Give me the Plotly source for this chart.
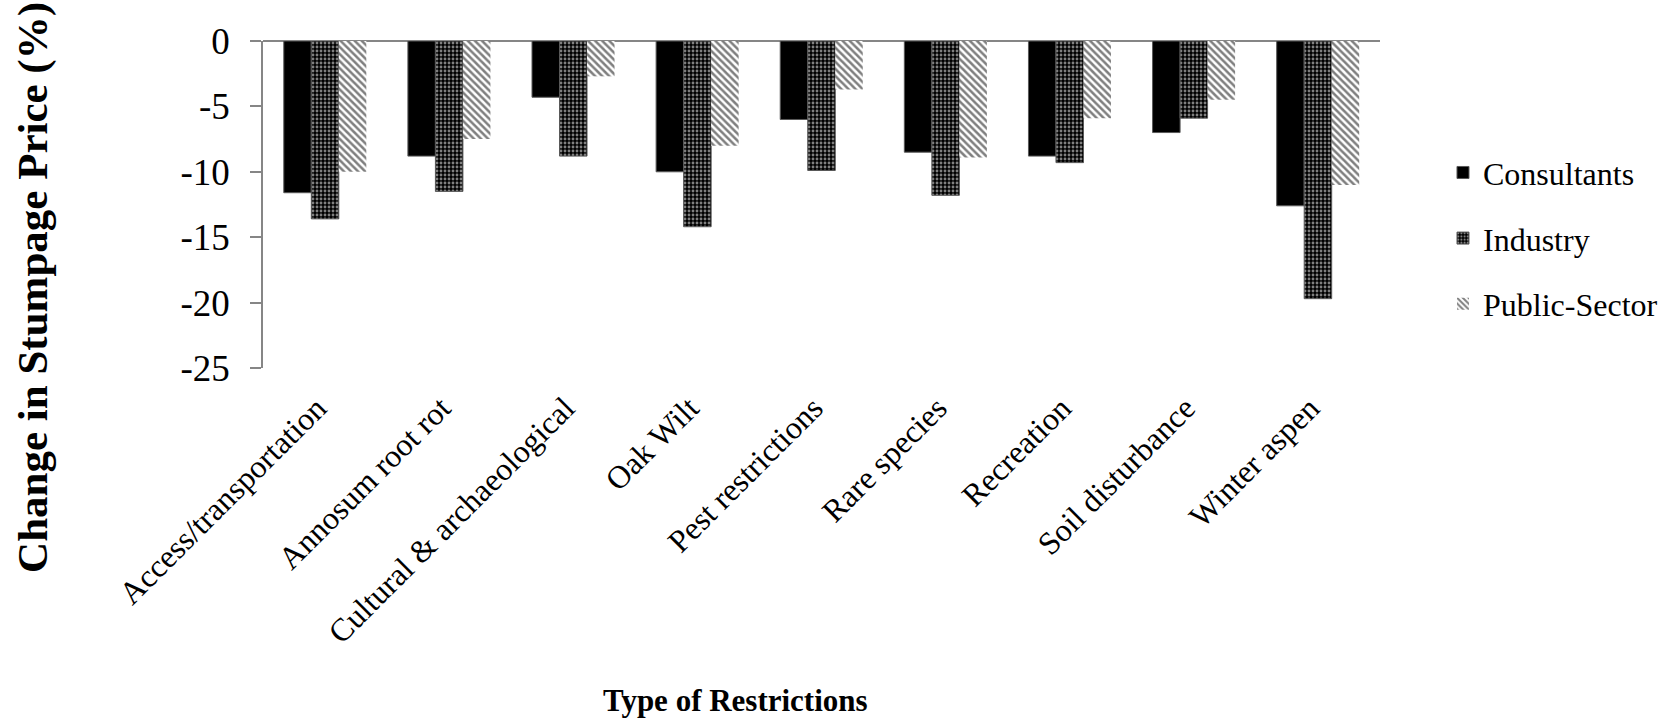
import plotly.graph_objects as go

categories = ["Access/transportation", "Annosum root rot", "Cultural & archaeological",
              "Oak Wilt", "Pest restrictions", "Rare species", "Recreation",
              "Soil disturbance", "Winter aspen"]
consultants = [-11.6, -8.8, -4.3, -10.0, -6.0, -8.5, -8.8, -7.0, -12.6]
industry = [-13.6, -11.5, -8.8, -14.2, -9.9, -11.8, -9.3, -5.9, -19.7]
public_sector = [-10.0, -7.5, -2.7, -8.0, -3.7, -8.9, -5.9, -4.5, -11.0]
y_ticks = [0, -5, -10, -15, -20, -25]

FONT = "Liberation Serif"
AXIS_GRAY = "#868686"

fig = go.Figure()
fig.add_trace(go.Bar(
    x=categories, y=consultants, name="Consultants", legendgroup="a",
    marker=dict(color="black", line=dict(color="#595959", width=1)),
))
fig.add_trace(go.Bar(
    x=categories, y=industry, name="Industry", legendgroup="b",
    marker=dict(color="black", line=dict(color="#595959", width=1),
                pattern=dict(shape=".", fgcolor="white", bgcolor="black",
                             size=4, solidity=0.4)),
))
fig.add_trace(go.Bar(
    x=categories, y=public_sector, name="Public-Sector", legendgroup="c",
    marker=dict(color="white", line=dict(color="white", width=0),
                pattern=dict(shape="\\", fgcolor="black", bgcolor="white",
                             size=5, solidity=0.5)),
))

fig.update_layout(
    width=1671, height=719,
    paper_bgcolor="white", plot_bgcolor="white",
    margin=dict(l=263, r=291, t=41, b=351, autoexpand=False),
    barmode="group", bargap=0.335, bargroupgap=0,
    font=dict(family=FONT, color="black", size=32),
    showlegend=True,
    legend=dict(x=1.0564, xanchor="left", y=0.397, yanchor="middle",
                font=dict(family=FONT, size=32, color="black"),
                tracegroupgap=21, bgcolor="rgba(0,0,0,0)"),
    xaxis=dict(
        type="category", tickangle=-45, showgrid=False, showline=False,
        ticks="", tickfont=dict(family=FONT, size=32, color="black"),
        ticklabelstandoff=14, ticklabelshift=-8,
    ),
    yaxis=dict(
        range=[-25, 0], tickvals=y_ticks, ticktext=[str(v) for v in y_ticks],
        showgrid=False, showline=True, linecolor=AXIS_GRAY, linewidth=1.5,
        ticks="outside", ticklen=11, tickwidth=1.5, tickcolor=AXIS_GRAY,
        tickfont=dict(family=FONT, size=37, color="black"),
        ticklabelstandoff=13,
        zeroline=True, zerolinecolor=AXIS_GRAY, zerolinewidth=1.5,
    ),
    annotations=[
        dict(text="<b>Change in Stumpage Price (%)</b>", textangle=-90,
             xref="paper", yref="paper", x=-0.206, y=(368 - 287) / 327,
             xanchor="center", yanchor="middle", showarrow=False,
             font=dict(family=FONT, size=43, color="black")),
        dict(text="<b>Type of Restrictions</b>",
             xref="paper", yref="paper", x=(735 - 263) / 1117, y=-1.016,
             xanchor="center", yanchor="middle", showarrow=False,
             font=dict(family=FONT, size=31, color="black")),
    ],
)

fig.write_html("out.html", config={"displayModeBar": False},
               post_script="document.body.style.margin='0';")
